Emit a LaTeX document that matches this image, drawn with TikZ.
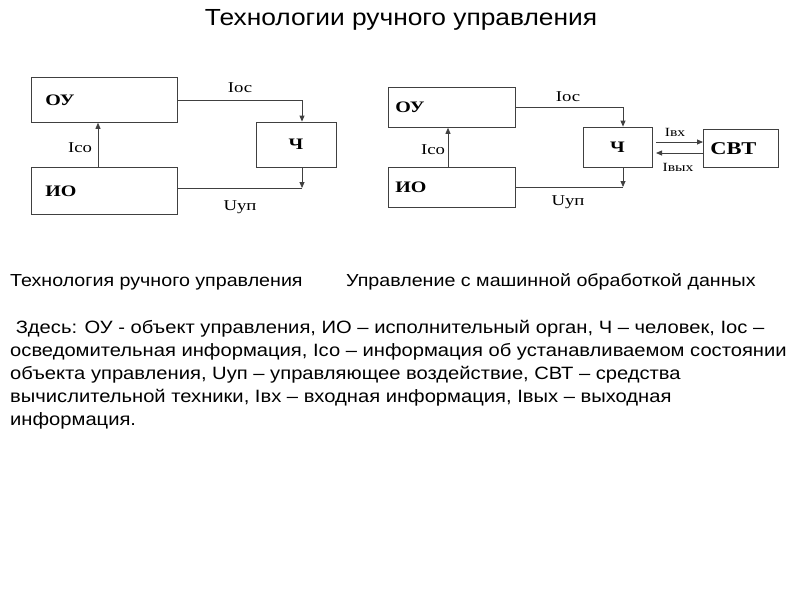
\documentclass[tikz,border=0pt]{standalone}
\usepackage{fontspec}
\setmainfont[FakeStretch=1.13]{Liberation Sans}
\newfontfamily\tms[FakeStretch=1.25]{Liberation Serif}
\usetikzlibrary{arrows.meta}
\begin{document}
\begin{tikzpicture}[x=1pt,y=-1pt,
  blk/.style={draw=black!75,line width=0.8pt,rectangle,inner sep=0pt,font=\tms\bfseries\fontsize{16}{16}\selectfont},
  wide/.style={blk,minimum height=#1,text width=118pt,inner xsep=14pt,align=left},
  sig/.style={draw=black!75,line width=0.8pt},
  tip/.style={sig,-{Triangle[length=6pt,width=5pt]}},
  lbl/.style={font=\tms\fontsize{15}{15}\selectfont,inner sep=0pt},
  txt/.style={anchor=base west,inner sep=0pt,font=\fontsize{17.85}{18}\selectfont}]
\useasboundingbox (0,0) rectangle (800,600);
\node[font=\fontsize{23.3}{24}\selectfont] (title) at (401,20) {Технологии  ручного  управления};
% left diagram
\node[wide=45pt,anchor=north west] (ou1) at (31,77) {ОУ};
\node[wide=47pt,anchor=north west] (io1) at (31,167) {ИО};
\node[blk,minimum width=80pt,minimum height=45pt] (ch1) at (296,144.5) {Ч};
\coordinate (c1) at (302,188);
\draw[tip] (ou1.east) -| ([xshift=6pt]ch1.north);
\draw[tip] ([xshift=6pt]ch1.south) -- (c1);
\draw[sig] (c1) -- (c1 -| io1.east);
\draw[tip] ([xshift=67pt]io1.north west) -- ([xshift=67pt]ou1.south west);
\node[lbl] (l1) at (240,88) {Iос};
\node[lbl] (l2) at (80,148) {Iсо};
\node[lbl] (l3) at (240,207) {Uуп};
% right diagram
\node[blk,minimum height=40pt,text width=113pt,inner xsep=7pt,align=left,anchor=north west] (ou2) at (388,87) {ОУ};
\node[blk,minimum height=40pt,text width=113pt,inner xsep=7pt,align=left,anchor=north west] (io2) at (388,167) {ИО};
\node[blk,minimum width=69pt,minimum height=40pt] (ch2) at (617.5,147) {Ч};
\node[blk,minimum width=75pt,minimum height=38pt,text width=61pt,inner xsep=7pt,align=left,anchor=north west,font=\tms\bfseries\fontsize{18}{18}\selectfont] (svt) at (703,129) {СВТ};
\coordinate (c2) at (623,187);
\coordinate (a1) at (656,142);
\coordinate (a2) at (656,153);
\draw[tip] (ou2.east) -| ([xshift=5.5pt]ch2.north);
\draw[tip] ([xshift=5.5pt]ch2.south) -- (c2);
\draw[sig] (c2) -- (c2 -| io2.east);
\draw[tip] ([xshift=60pt]io2.north west) -- ([xshift=60pt]ou2.south west);
\draw[tip] (a1) -- (a1 -| svt.west);
\draw[tip] (a2 -| svt.west) -- (a2);
\node[lbl] (l4) at (568,97) {Iос};
\node[lbl] (l5) at (433,150) {Iсо};
\node[lbl] (l6) at (568,202) {Uуп};
\node[lbl,font=\tms\fontsize{12.5}{12.5}\selectfont] (l7) at (675,132) {Iвх};
\node[lbl,font=\tms\fontsize{12.5}{12.5}\selectfont] (l8) at (678,167) {Iвых};
% captions
\node[txt,font=\fontsize{17.4}{17.4}\selectfont] (cap1) at (10,286) {Технология  ручного управления};
\node[txt,font=\fontsize{17.4}{17.4}\selectfont] (cap2) at (346,286) {Управление с машинной обработкой данных};
\node[txt] (p1) at (10,333) {\ Здесь: ОУ - объект управления, ИО – исполнительный орган, Ч – человек, Iос –};
\node[txt] (p2) at (10,356) {осведомительная информация, Iсо – информация об устанавливаемом состоянии};
\node[txt] (p3) at (10,379) {объекта управления, Uуп – управляющее воздействие, СВТ – средства};
\node[txt] (p4) at (10,402) {вычислительной техники, Iвх – входная  информация, Iвых – выходная};
\node[txt] (p5) at (10,425) {информация.};
\end{tikzpicture}
\end{document}
